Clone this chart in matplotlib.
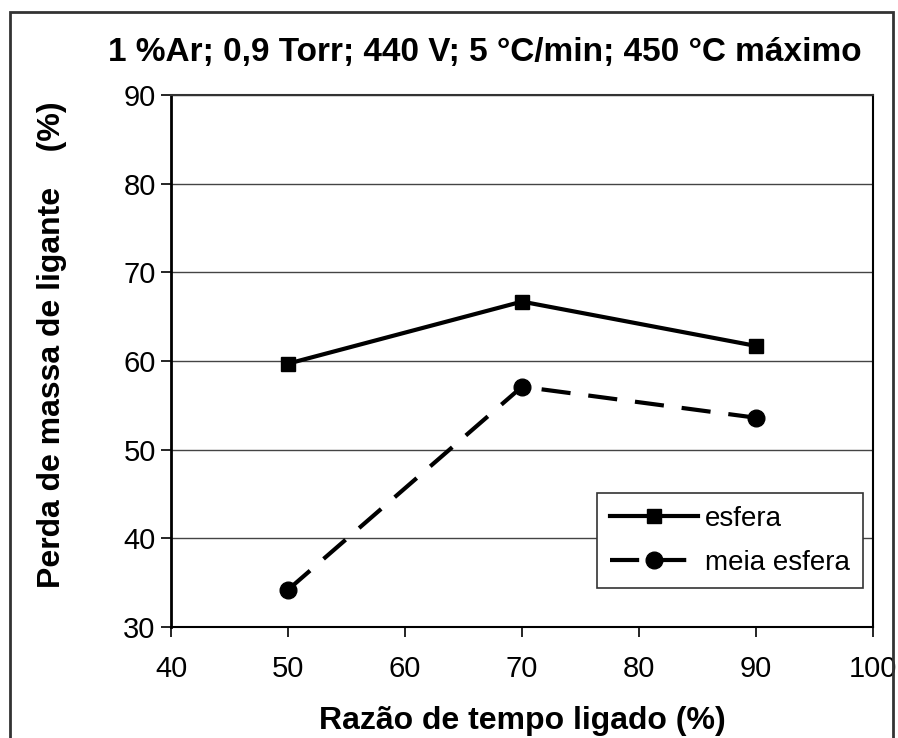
import matplotlib
matplotlib.use("Agg")
import matplotlib.pyplot as plt
from matplotlib.patches import Rectangle

plt.rcParams['font.family'] = ['Liberation Sans', 'DejaVu Sans']

x_vals = [50, 70, 90]
esfera = [59.7, 66.7, 61.7]
meia_esfera = [34.2, 57.1, 53.6]
x_ticks = [40, 50, 60, 70, 80, 90, 100]
y_ticks = [30, 40, 50, 60, 70, 80, 90]

title = "1 %Ar; 0,9 Torr; 440 V; 5 °C/min; 450 °C máximo"
xlabel = "Razão de tempo ligado (%)"
ylabel = "Perda de massa de ligante    (%)"

W, H = 898, 738
fig = plt.figure(figsize=(W / 100, H / 100), dpi=100)
ax = fig.add_axes([171 / W, 1 - 627 / H, (873 - 171) / W, (627 - 95) / H])

ax.set_xlim(40, 100)
ax.set_ylim(30, 90)
ax.set_xticks(x_ticks)
ax.set_yticks(y_ticks)
ax.yaxis.grid(True, color='#444444', linewidth=1.0, zorder=0)
ax.set_axisbelow(True)

ax.plot(x_vals, esfera, color='black', linewidth=3.0, marker='s', markersize=10,
        label='esfera', zorder=3)
ax.plot(x_vals, meia_esfera, color='black', linewidth=3.0, marker='o', markersize=12,
        dashes=(7, 4.3), label='meia esfera', zorder=3)

for s in ax.spines.values():
    s.set_color('black')
    s.set_linewidth(1.5)
ax.spines['left'].set_linewidth(2.0)
ax.spines['top'].set_color('#333333')

ax.tick_params(axis='both', direction='out', length=7, width=1.2, labelsize=21,
               colors='black')
ax.tick_params(axis='x', pad=13)
ax.tick_params(axis='y', pad=4)

ax.set_xlabel(xlabel, fontsize=23, fontweight='bold', labelpad=17)
ax.yaxis.set_label_coords((52 - 171) / (873 - 171), (627 - 345) / (627 - 95))
ax.set_ylabel(ylabel, fontsize=23, fontweight='bold', va='center', ha='center')

fig.text(485 / W, 1 - 52 / H, title, fontsize=24, fontweight='bold',
         ha='center', va='center')

leg = ax.legend(loc='upper left',
                bbox_to_anchor=((597 - 171) / (873 - 171), (627 - 493) / (627 - 95)),
                fontsize=20, frameon=True, fancybox=False, shadow=False,
                handlelength=3.2, handletextpad=0.25, borderpad=0.45,
                labelspacing=0.65, borderaxespad=0)
leg.get_frame().set_edgecolor('#333333')
leg.get_frame().set_linewidth(1.2)
leg.get_frame().set_facecolor('white')
leg.get_frame().set_alpha(1)
leg.set_zorder(5)

border = Rectangle((10 / W, -0.02), (893 - 10) / W, 1 - 12 / H + 0.02,
                   transform=fig.transFigure, fill=False, edgecolor='#333333',
                   linewidth=2.0, clip_on=False)
fig.patches.append(border)

fig.savefig("out.png", dpi=100, facecolor='white')
